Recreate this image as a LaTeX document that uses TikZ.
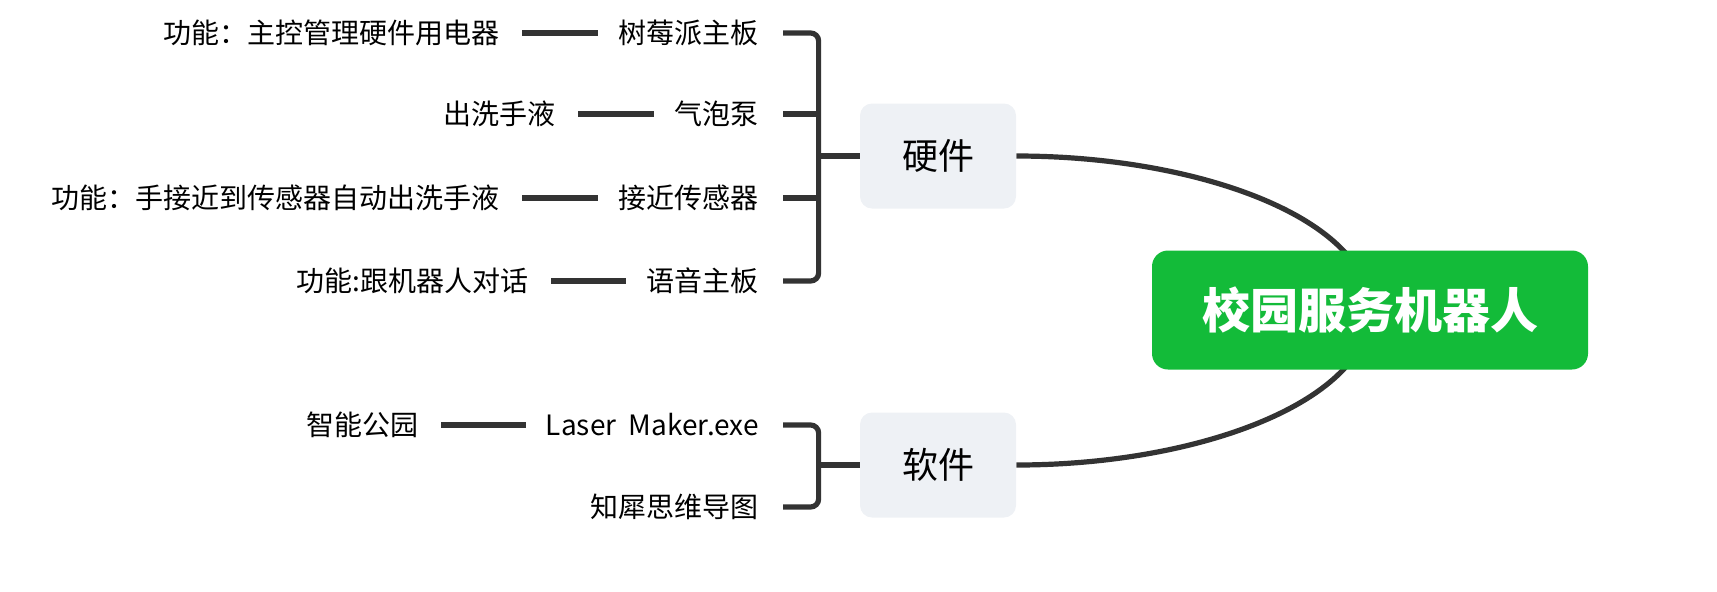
\documentclass[tikz,border=0pt]{standalone}
\usepackage{fontspec}
\setmainfont{Noto Sans CJK SC}
\usepackage{xcolor}
\usepackage{tikz}
\usetikzlibrary{backgrounds}

\definecolor{rootgreen}{RGB}{19,187,57}
\definecolor{subfill}{RGB}{238,241,245}
\definecolor{linegray}{RGB}{51,51,51}

\begin{document}
\begin{tikzpicture}[x=0.5pt,y=0.5pt,yscale=-1,xscale=1,
  leaf/.style={anchor=east,inner sep=0pt,font=\fontsize{14pt}{16pt}\selectfont},
  note/.style={anchor=east,inner sep=0pt,font=\fontsize{14pt}{16pt}\selectfont},
  subtopic/.style={fill=subfill,rounded corners=6pt,minimum width=78pt,minimum height=52.5pt,inner sep=0pt,font=\fontsize{18pt}{20pt}\selectfont},
  topic/.style={fill=rootgreen,rounded corners=8pt,minimum width=218pt,minimum height=59.5pt,inner sep=0pt,text=white,font=\fontsize{24pt}{28pt}\selectfont\bfseries},
  twig/.style={draw=linegray,line width=2.6pt,shorten <=11pt,shorten >=10pt},
  brace/.style={draw=linegray,line width=2.6pt,rounded corners=4pt},
  branch/.style={draw=linegray,line width=2.6pt}]
%set diagram left start at 0, and has height of 591
\useasboundingbox (0,0) rectangle (1717,591);

%Shape: Rounded Rect [id:hw] 
\draw (938,156) node (hw) [subtopic] {硬件};
%Shape: Rounded Rect [id:sw] 
\draw (938,465) node (sw) [subtopic] {软件};
%Shape: Rounded Rect [id:root] 
\draw (1370,310) node (root) [topic] {校园服务机器人};

% Text Node
\draw (759,33) node (rasp) [leaf] {树莓派主板};
% Text Node
\draw (759,114) node (pump) [leaf] {气泡泵};
% Text Node
\draw (759,198) node (sensor) [leaf] {接近传感器};
% Text Node
\draw (759,281) node (voice) [leaf] {语音主板};
% Text Node
\draw (759,425) node (laser) [leaf] {Laser~~Maker.exe};
% Text Node
\draw (759,507) node (mind) [leaf] {知犀思维导图};

% Text Node
\draw (500,33) node (rasp_f) [note] {功能：主控管理硬件用电器};
% Text Node
\draw (556,114) node (pump_f) [note] {出洗手液};
% Text Node
\draw (500,198) node (sensor_f) [note] {功能：手接近到传感器自动出洗手液};
% Text Node
\draw (529,281) node (voice_f) [note] {功能:跟机器人对话};
% Text Node
\draw (419,425) node (laser_f) [note] {智能公园};

%Straight Lines [id:twigs] 
\draw [twig] (rasp_f.east) -- (rasp.west);
\draw [twig] (pump_f.east) -- (pump.west);
\draw [twig] (sensor_f.east) -- (sensor.west);
\draw [twig] (voice_f.east) -- (voice.west);
\draw [twig] (laser_f.east) -- (laser.west);

%Straight Lines [id:hwbrace] 
\coordinate (hwb) at ([xshift=-20.5pt]hw.west);
\draw [brace] ([xshift=12pt]rasp.east) -| (hwb) |- ([xshift=12pt]voice.east);
\draw [brace] ([xshift=12pt]pump.east) -- (pump.east -| hwb);
\draw [brace] ([xshift=12pt]sensor.east) -- (sensor.east -| hwb);
\draw [brace] (hwb) -- (hw.west);
%Straight Lines [id:swbrace] 
\coordinate (swb) at ([xshift=-20.5pt]sw.west);
\draw [brace] ([xshift=12pt]laser.east) -| (swb) |- ([xshift=12pt]mind.east);
\draw [brace] (swb) -- (sw.west);

%Curve Lines [id:branches] 
\begin{scope}[on background layer]
\draw [branch] (hw.east) .. controls +(185,0) and +(0,-90) .. (root.center);
\draw [branch] (sw.east) .. controls +(185,0) and +(0,90) .. (root.center);
\end{scope}
\end{tikzpicture}
\end{document}
